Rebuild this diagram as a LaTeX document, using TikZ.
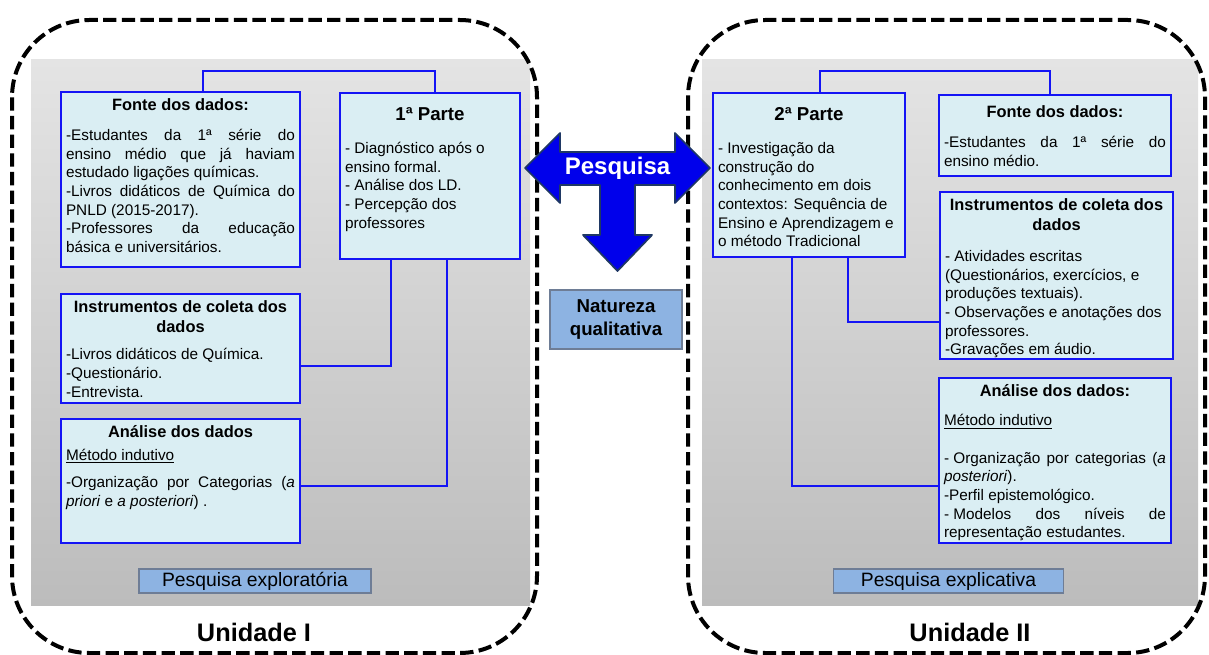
\documentclass[tikz,border=0pt]{standalone}
\usepackage{fontspec}
\setmainfont{Liberation Sans}

\definecolor{boxfill}{RGB}{218,238,243}
\definecolor{boxline}{RGB}{20,20,245}
\definecolor{tagfill}{RGB}{141,179,226}
\definecolor{tagline}{RGB}{110,125,150}
\definecolor{arrowfill}{RGB}{0,0,235}
\definecolor{arrowline}{RGB}{31,56,100}
\definecolor{paneltop}{RGB}{228,228,228}
\definecolor{panelbot}{RGB}{188,188,188}

\newlength{\px}\setlength{\px}{0.75pt}
\hyphenpenalty=10000
\hbadness=10000

%% one box: width, height (in px), content
\newcommand{\cellbox}[3]{%
  \begin{minipage}[t][#2\px][t]{\dimexpr#1\px-10\px\relax}%
  \setlength{\parindent}{0pt}\setlength{\parskip}{0pt}%
  \fontsize{11.5}{14}\selectfont #3%
  \end{minipage}}
%% bold centred title, baseline at #2 px from the top
\newcommand{\headline}[3][12.3]{%
  \hbox{}\vspace{\dimexpr#2\px-15pt\relax}%
  {\centering\fontsize{#1}{15}\selectfont\bfseries #3\par}}
\newcommand{\dash}{-\hspace{0.28em}}

%% texts of the boxes
\newcommand{\txtfonteA}{%
  \headline{19}{Fonte dos dados:}\vspace{8.1pt}%
  -Estudantes da 1ª série do\linebreak ensino médio que já haviam\linebreak estudado ligações químicas.\par
  -Livros didáticos de Química do\linebreak PNLD (2015-2017).\par
  -Professores da educação\linebreak básica e universitários.\par}
\newcommand{\txtparteA}{%
  \headline[14]{27.4}{1ª Parte}\vspace{10.8pt}%
  {\raggedright - Diagnóstico após o\\ensino formal.\\- Análise dos LD.\\- Percepção dos\\professores\par}}
\newcommand{\txtinstA}{%
  \headline{18.4}{Instrumentos de coleta dos\\dados}\vspace{6.5pt}%
  -Livros didáticos de Química.\par
  -Questionário.\par
  -Entrevista.\par}
\newcommand{\txtanA}{%
  \headline{18.7}{Análise dos dados}\vspace{3.1pt}%
  \underline{Método indutivo}\par\vspace{6.3pt}%
  -Organização por Categorias (\textit{a}\linebreak \textit{priori} e \textit{a posteriori}) .\par}
\newcommand{\txtparteB}{%
  \headline[14]{27.4}{2ª Parte}\vspace{10.8pt}%
  {\raggedright - Investigação da\\construção do\\conhecimento em dois\\contextos: Sequência de\\Ensino e Aprendizagem e\\o método Tradicional\par}}
\newcommand{\txtfonteB}{%
  \headline{22.7}{Fonte dos dados:}\vspace{8.35pt}%
  -Estudantes da 1ª série do\linebreak ensino médio.\par}
\newcommand{\txtinstB}{%
  \headline{19}{Instrumentos de coleta dos\\dados}\vspace{8.9pt}%
  {\raggedright - Atividades escritas\\(Questionários, exercícios, e\\produções textuais).\\- Observações e anotações dos\\professores.\\-Gravações em áudio.\par}}
\newcommand{\txtanB}{%
  \headline{18.7}{Análise dos dados:}\vspace{7.8pt}%
  \underline{Método indutivo}\par\vspace{14pt}%
  \dash Organização por categorias (\textit{a}\linebreak \textit{posteriori}).\par
  -Perfil epistemológico.\par
  \dash Modelos dos níveis de\linebreak representação estudantes.\par}

\begin{document}
\begin{tikzpicture}
[x=0.75pt, y=-0.75pt,
  databox/.style={draw=boxline, line width=1.5pt, fill=boxfill,
    inner xsep=3.75pt, inner ysep=0pt, anchor=north west},%
  tagbox/.style={draw=tagline, line width=0.8pt, fill=tagfill,
    inner sep=0pt, font=\fontsize{14.5}{17}\selectfont},%
  natbox/.style={draw=tagline, line width=0.8pt, fill=tagfill, align=center,
    inner sep=0pt, font=\fontsize{14}{17.25}\selectfont\bfseries},%
  link/.style={draw=boxline, line width=1.5pt},%
  unitframe/.style={draw=black, line width=3pt, dash pattern=on 10pt off 4pt,
    rounded corners=58pt},%
  panel/.style={top color=paneltop, bottom color=panelbot},%
  unitlabel/.style={font=\fontsize{19}{22}\selectfont\bfseries},%
  bigarrow/.style={fill=arrowfill, draw=arrowline, line width=1.3pt, line join=round}]
\useasboundingbox (0,0) rectangle (1209,655);

%% grey panels and dashed frames
\shade[panel] (31,60) rectangle (530,605);
\shade[panel] (702,60) rectangle (1198,605);
\draw[unitframe] (12,20) rectangle (537,653);
\draw[unitframe] (688,20) rectangle (1205,653);

%% boxes
\foreach \name/\x/\y/\bw/\bh in {
  fonteA/60/91/239/175, parteA/339/92/180/166, instA/60/293/239/109,
  anA/60/418/239/124, parteB/712/92/192/164, fonteB/938/94/232/81,
  instB/939/191/233/167, anB/938/377/232/165}
{
  \node (\name) at (\x,\y) [databox] {\cellbox{\bw}{\bh}{\csname txt\name\endcsname}};
}

%% connectors
\draw[link] ([shift={(143,0)}]fonteA.north west) -- ++(0,-20)
  -| ([shift={(96,0)}]parteA.north west);
\draw[link] ([shift={(108,0)}]parteB.north west) -- ++(0,-21)
  -| ([shift={(112,0)}]fonteB.north west);
\foreach \src/\sx/\dst/\dsta/\ty in {
  parteA/52/instA/north east/73, parteA/108/anA/north east/68,
  parteB/136/instB/north west/131, parteB/80/anB/north west/109}
{
  \draw[link] ([shift={(\sx,0)}]\src.south west) |- ([shift={(0,\ty)}]\dst.\dsta);
}

%% labels at the bottom
\node (expA) at (255,581) [tagbox, minimum width=174pt, minimum height=18pt] {Pesquisa exploratória};
\node (expB) at (948.5,581) [tagbox, minimum width=173pt, minimum height=18pt] {Pesquisa explicativa};
\node (unitA) at (254,632) [unitlabel] {Unidade I};
\node (unitB) at (970,632) [unitlabel] {Unidade II};

%% middle: arrow and nature of the research
\draw[bigarrow] (525,168) -- (560,133) -- (560,152) -- (675,152) -- (675,133)
  -- (710,168) -- (675,203) -- (675,185) -- (635,185) -- (635,235) -- (652,235)
  -- (617.5,271) -- (583,235) -- (600,235) -- (600,185) -- (560,185)
  -- (560,203) -- cycle;
\node (pesquisa) at (617.5,168) [text=white, font=\fontsize{18}{20}\selectfont\bfseries] {Pesquisa};
\node (natureza) at (616,319.5) [natbox, minimum width=99pt, minimum height=44.25pt] {Natureza\\qualitativa};
\end{tikzpicture}
\end{document}
